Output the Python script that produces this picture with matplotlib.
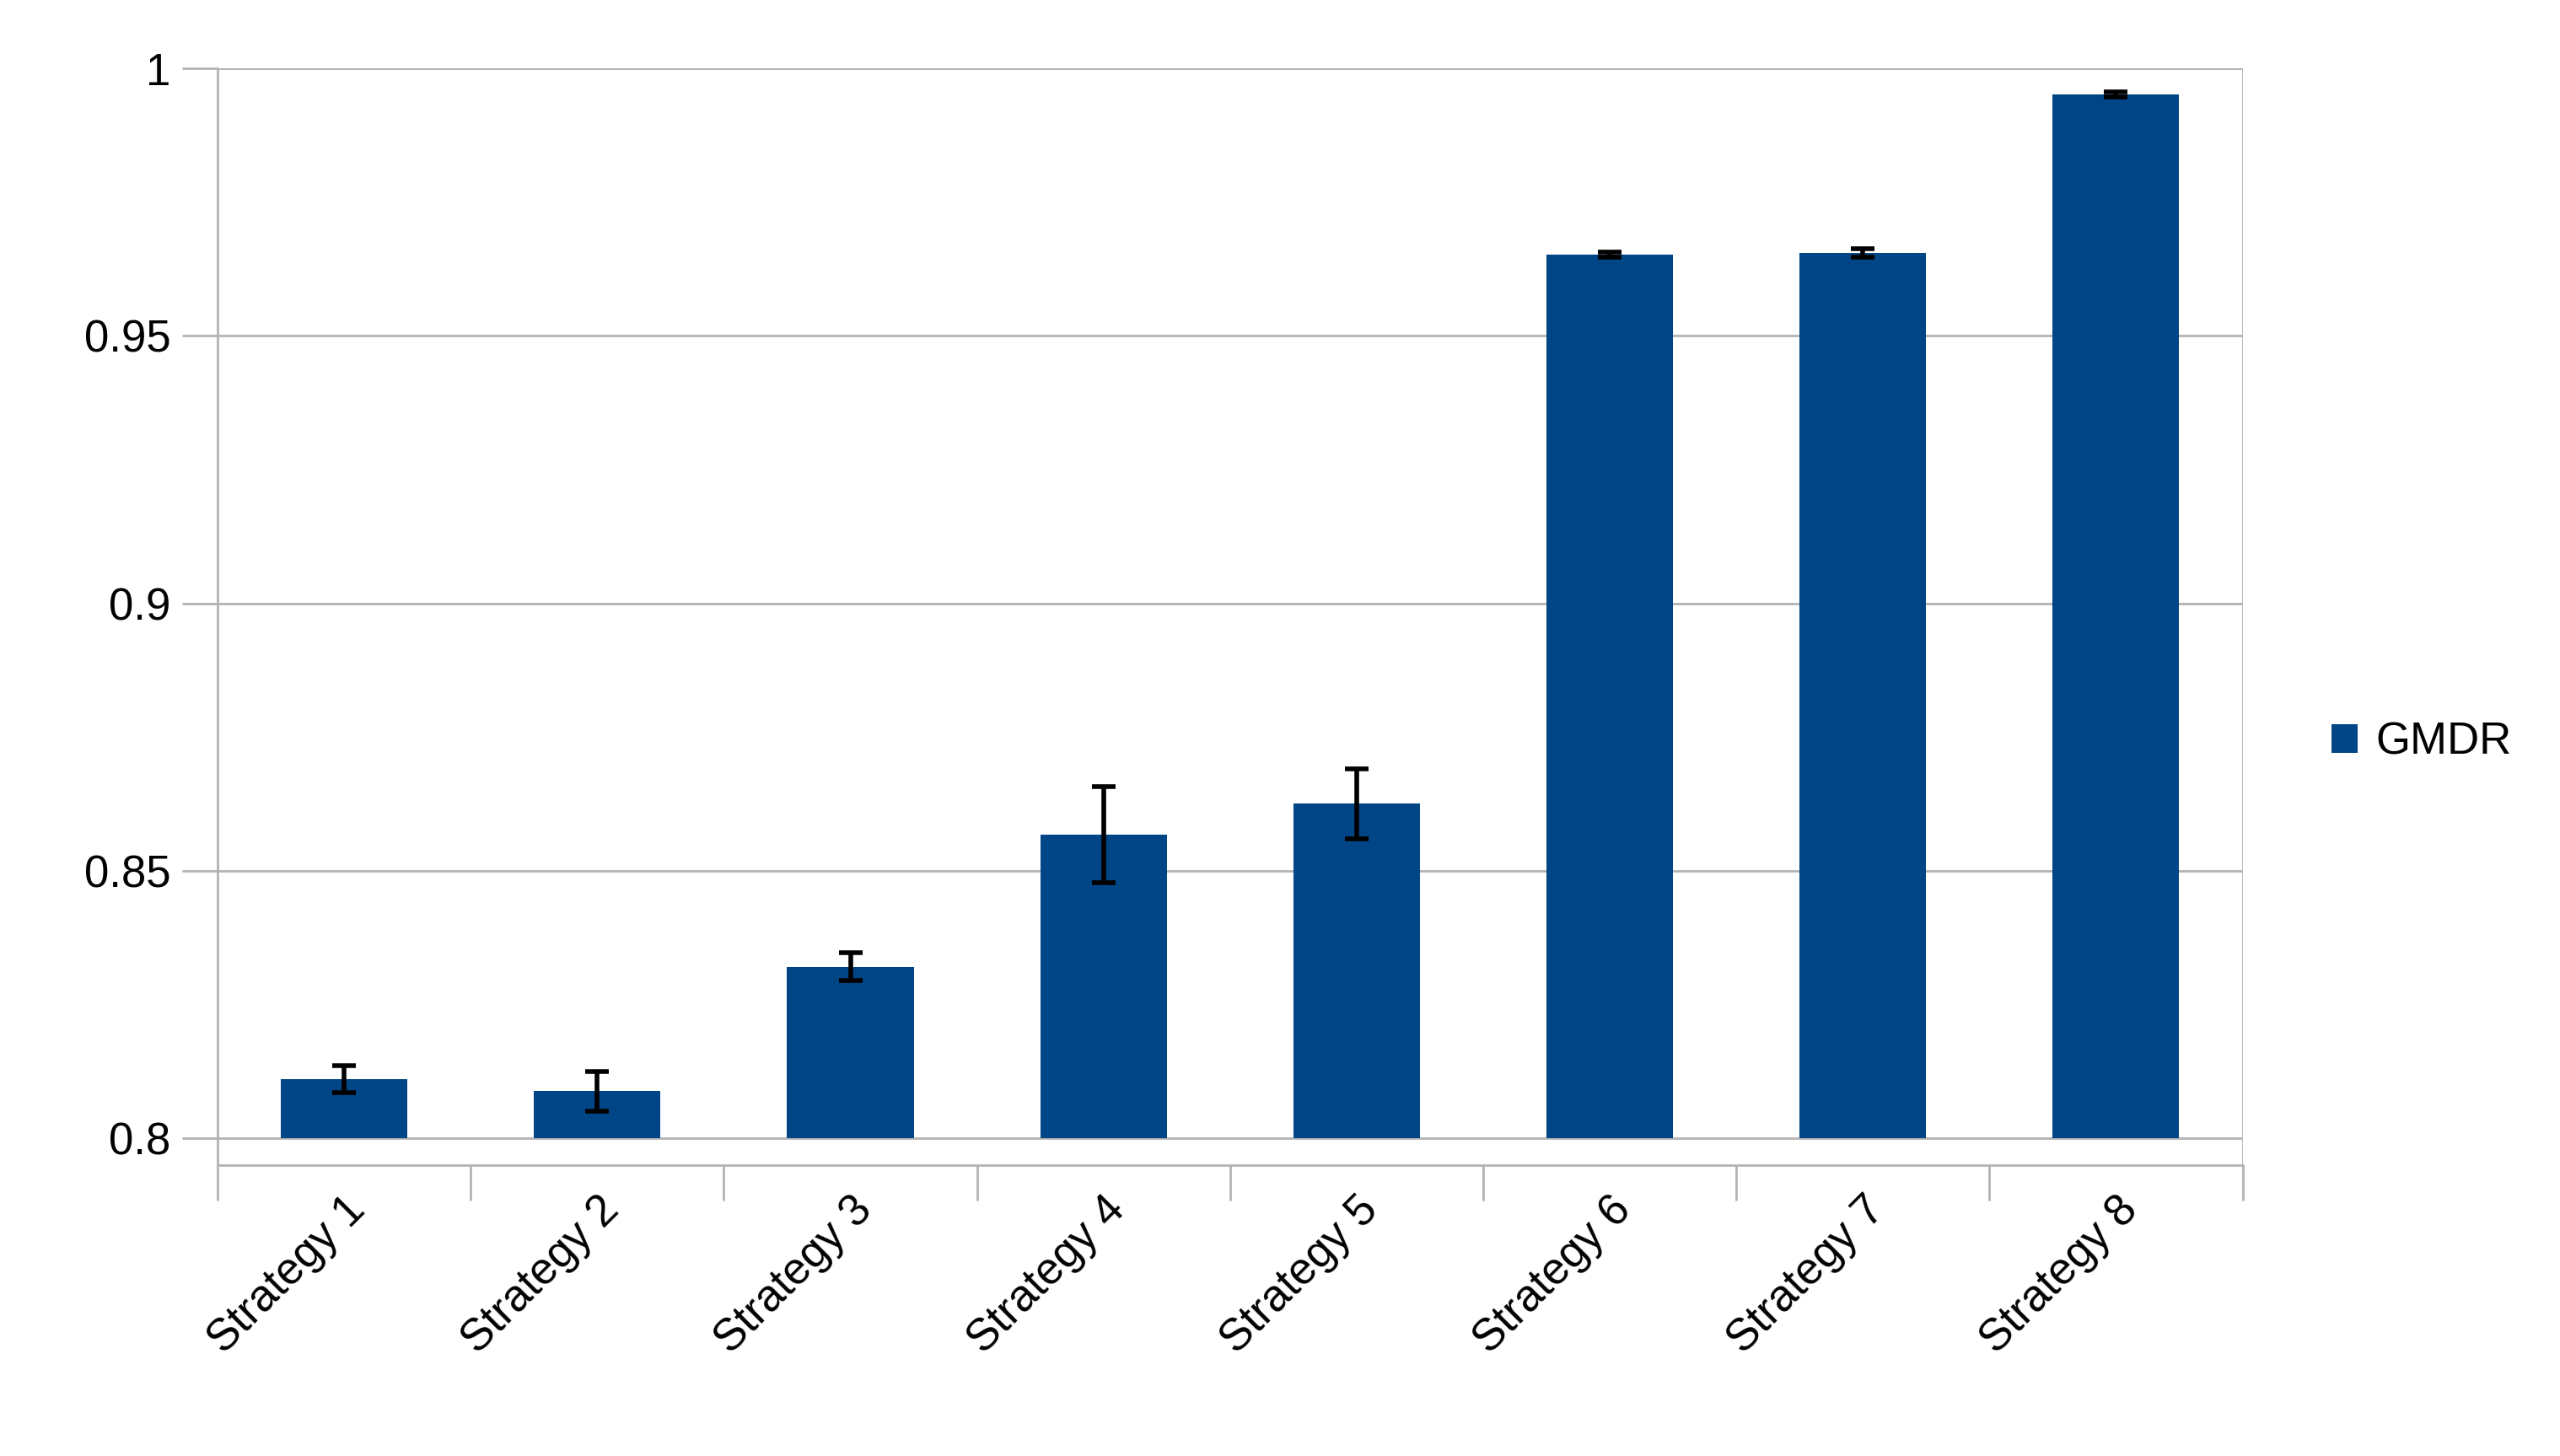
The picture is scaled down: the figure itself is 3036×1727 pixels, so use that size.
import numpy as np
import matplotlib.pyplot as plt

plt.rcParams['font.family'] = ['Liberation Sans', 'DejaVu Sans']

categories = ['Strategy 1', 'Strategy 2', 'Strategy 3', 'Strategy 4',
              'Strategy 5', 'Strategy 6', 'Strategy 7', 'Strategy 8']
gmdr = [0.811, 0.8088, 0.832, 0.8567, 0.8625, 0.9652, 0.9655, 0.9951]
err = [0.0025, 0.0037, 0.0026, 0.009, 0.0066, 0.0005, 0.0008, 0.0005]

fig = plt.figure(figsize=(30.36, 17.27), dpi=100)
ax = fig.add_axes([0.085, 0.2, 0.791, 0.753])

x = np.arange(len(categories))
base = 0.8
ax.bar(x, np.array(gmdr) - base, bottom=base, width=0.5, color='#004586',
       label='GMDR', zorder=3,
       yerr=err, error_kw=dict(ecolor='black', elinewidth=4, capsize=10, capthick=4, zorder=4))

ax.set_xlim(-0.5, len(categories) - 0.5)
ax.set_ylim(0.795, 1.0)
ax.set_yticks([0.8, 0.85, 0.9, 0.95, 1.0])
ax.set_yticklabels(['0.8', '0.85', '0.9', '0.95', '1'])
ax.yaxis.grid(True, color='#b3b3b3', linewidth=2, zorder=0)
ax.set_xticks(x)
ax.set_xticklabels(categories, rotation=45, ha='right', rotation_mode='anchor')
ax.tick_params(axis='x', length=0, labelsize=38, pad=20)
ax.set_xticks(np.arange(-0.5, len(categories)), minor=True)
ax.tick_params(axis='x', which='minor', length=30, width=2, color='#b3b3b3')
ax.tick_params(axis='y', labelsize=38, length=30, width=2, color='#b3b3b3', pad=10)
for s in ['top', 'right']:
    ax.spines[s].set_visible(False)
for s in ['left', 'bottom']:
    ax.spines[s].set_color('#b3b3b3')
    ax.spines[s].set_linewidth(2)
ax.axhline(1.0, color='#b3b3b3', linewidth=2, zorder=1)
ax.axvline(len(categories) - 0.5, color='#b3b3b3', linewidth=2, zorder=1)

fig.legend(loc='center left', bbox_to_anchor=(0.895, 0.49), frameon=False,
           fontsize=38, handlelength=0.6, handleheight=0.6, handletextpad=0.4)

fig.savefig('out.png', facecolor='white')
